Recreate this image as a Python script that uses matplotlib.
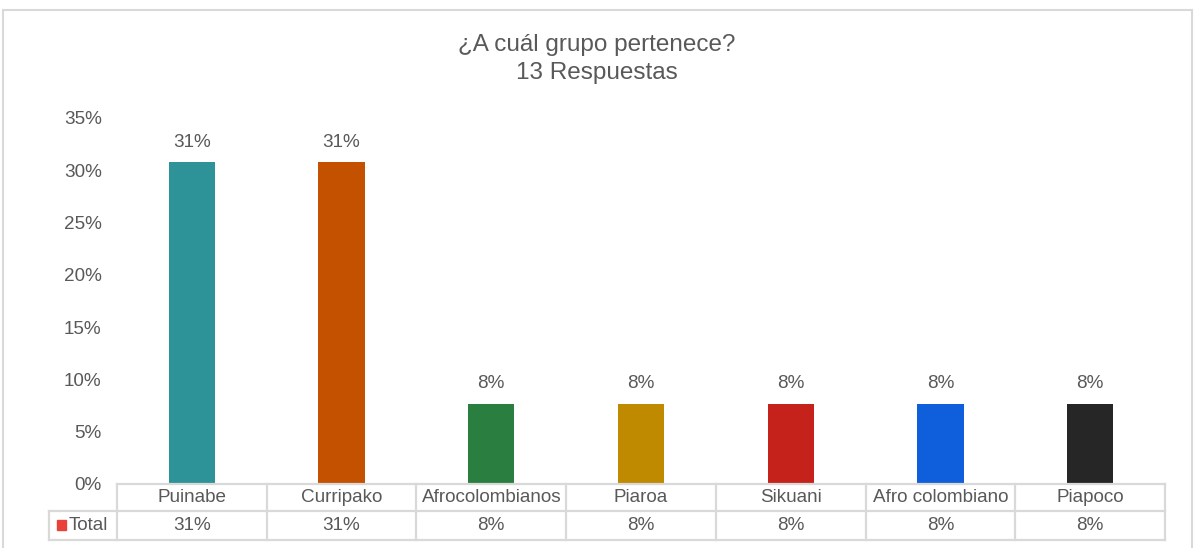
import matplotlib
matplotlib.use("Agg")
import matplotlib.pyplot as plt
from matplotlib.lines import Line2D
from matplotlib.patches import Rectangle
from matplotlib.transforms import blended_transform_factory

plt.rcParams['font.family'] = ['Liberation Sans', 'DejaVu Sans']

TITLE = "¿A cuál grupo pertenece?\n13 Respuestas"
categories = ["Puinabe", "Curripako", "Afrocolombianos", "Piaroa",
              "Sikuani", "Afro colombiano", "Piapoco"]
values = [4 / 13, 4 / 13, 1 / 13, 1 / 13, 1 / 13, 1 / 13, 1 / 13]
colors = ["#2E9399", "#C45100", "#2A7F40", "#BF8A00", "#C4221A", "#0F5EDB", "#262626"]
yticks = [0, 0.05, 0.10, 0.15, 0.20, 0.25, 0.30, 0.35]
series_name = "Total"

W, H = 1194, 548
TXT = "#595959"
GRID = "#D9D9D9"
FS = 13.6


def fx(px):  # pixel -> figure fraction
    return px / W


def fy(py):
    return 1 - py / H


fig = plt.figure(figsize=(W / 100, H / 100), dpi=100)
ax = fig.add_axes([fx(117), fy(484), fx(1165) - fx(117), fy(118) - fy(484)])

n = len(categories)
x = list(range(n))
ax.bar(x, values, width=0.31, color=colors)
for xi, v in zip(x, values):
    ax.text(xi, v + 0.011, f"{v:.0%}", ha="center", va="bottom", fontsize=FS, color=TXT)

ax.set_xlim(-0.5, n - 0.5)
ax.set_ylim(0, 0.35)
ax.set_yticks(yticks)
ax.set_yticklabels([f"{t:.0%}" for t in yticks], fontsize=FS, color=TXT)
ax.tick_params(axis="y", length=0, pad=11)
ax.set_xticks([])
for s in ax.spines.values():
    s.set_visible(False)

fig.text(0.5, fy(59), TITLE, ha="center", va="center", fontsize=17.5, color=TXT, linespacing=1.4)

# data table under the plot
tr = blended_transform_factory(ax.transData, fig.transFigure)
y_top, y_mid, y_bot = fy(484), fy(511), fy(540)
lw = 1.6
ax.add_line(Line2D([-0.5, n - 0.5], [y_top, y_top], transform=tr, color=GRID, lw=lw, clip_on=False))
for yy in (y_mid, y_bot):
    fig.add_artist(Line2D([fx(49), fx(1165)], [yy, yy], color=GRID, lw=lw))
for k in range(n + 1):
    ax.add_line(Line2D([k - 0.5, k - 0.5], [y_top, y_bot], transform=tr, color=GRID, lw=lw, clip_on=False))
fig.add_artist(Line2D([fx(49), fx(49)], [y_mid, y_bot], color=GRID, lw=lw))

for xi, cat, v in zip(x, categories, values):
    ax.text(xi, (y_top + y_mid) / 2, cat, transform=tr, ha="center", va="center",
            fontsize=FS, color=TXT, clip_on=False)
    ax.text(xi, (y_mid + y_bot) / 2, f"{v:.0%}", transform=tr, ha="center", va="center",
            fontsize=FS, color=TXT, clip_on=False)

fig.add_artist(Rectangle((fx(57), fy(530)), fx(9), fy(520) - fy(530), color="#E8413A"))
fig.text(fx(69), (y_mid + y_bot) / 2, series_name, ha="left", va="center", fontsize=FS, color=TXT)

# chart border
for xs, ys in [([3, 3], [10, 548]), ([3, 1192], [10, 10]), ([1192, 1192], [10, 548])]:
    fig.add_artist(Line2D([fx(p) for p in xs], [fy(p) for p in ys], color=GRID, lw=1.5))

fig.savefig("out.png", dpi=100)
